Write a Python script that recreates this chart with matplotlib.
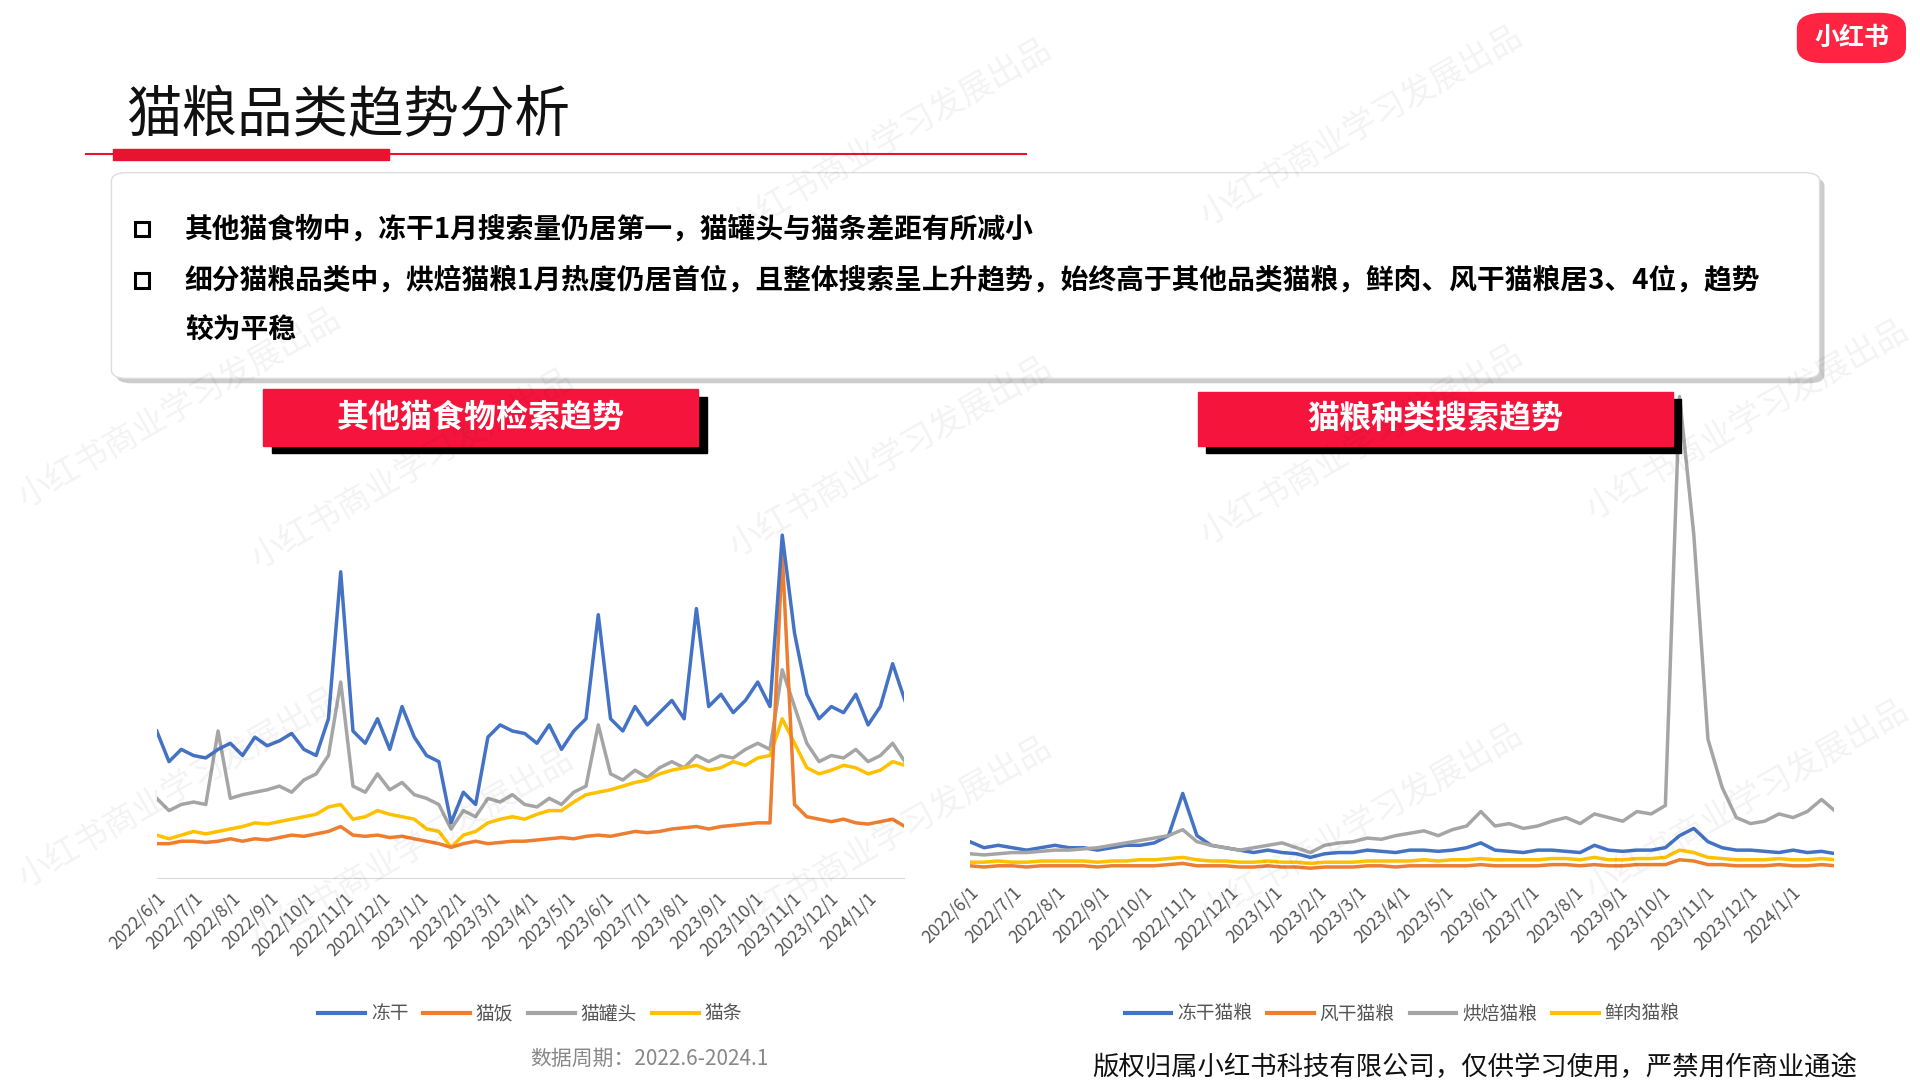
import matplotlib
matplotlib.use("Agg")
import matplotlib.pyplot as plt
from matplotlib.patches import FancyBboxPatch, Rectangle
import pandas as pd

plt.rcParams["font.family"] = "Noto Sans CJK SC"

dates = pd.date_range("2022-06-01", periods=62, freq="10D")
tick_dates = pd.date_range("2022-06-01", "2024-01-01", freq="MS")
tick_labels = [f"{d.year}/{d.month}/1" for d in tick_dates]

left_names = ["冻干", "猫饭", "猫罐头", "猫条"]
dongan = [120,95,105,100,98,105,110,100,115,108,112,118,105,100,130,
          250,
          120,110,130,105,140,115,100,95,
          45,70,60,
          115,125,120,118,110,125,105,120,130,
          215,
          130,120,140,125,135,145,130,
          220,
          140,150,135,145,160,140,
          280,
          200,150,130,140,135,150,125,140,175,145]
maofan = [28,28,30,30,29,30,32,30,32,31,33,35,34,36,38,
          42,
          35,34,35,33,34,32,30,28,
          25,28,30,
          28,29,30,30,31,32,33,32,34,
          35,
          34,36,38,37,38,40,41,
          42,
          40,42,43,44,45,45,
          265,
          60,50,48,46,48,45,44,46,48,42]
guantou = [65,55,60,62,60,120,65,68,70,72,75,70,80,85,100,
           160,
           75,70,85,72,78,68,65,60,
           40,55,50,
           65,62,68,60,58,65,60,70,75,
           125,
           85,80,88,82,90,95,90,
           100,
           95,100,98,105,110,105,
           170,
           140,110,95,100,98,105,95,100,110,95]
maotiao = [35,32,35,38,36,38,40,42,45,44,46,48,50,52,58,
           60,
           48,50,55,52,50,48,40,38,
           25,35,38,
           45,48,50,48,52,55,55,62,68,
           70,
           72,75,78,80,85,88,90,
           92,
           88,90,95,92,98,100,
           130,
           110,90,85,88,92,90,85,88,95,92]

right_names = ["冻干猫粮", "风干猫粮", "烘焙猫粮", "鲜肉猫粮"]
dg_ml = [25,20,22,20,18,20,22,20,20,18,20,22,22,24,30,
         65,
         30,22,20,18,16,18,16,15,
         12,15,16,
         16,18,17,16,18,18,17,18,20,
         24,
         18,17,16,18,18,17,16,
         22,
         18,17,18,18,
         20,30,36,
         25,20,18,
         18,17,16,18,16,17,15]
fg_ml = [5,4,5,5,4,5,5,5,5,4,5,5,5,5,6,
         7,
         5,5,5,4,4,5,4,4,
         3,4,4,
         4,5,5,4,5,5,5,5,5,
         6,
         5,5,5,5,6,6,5,
         6,
         5,5,6,6,
         6,10,9,
         6,6,5,
         5,5,6,5,5,6,5]
hb_ml = [15,14,15,16,16,17,18,18,19,20,22,24,26,28,30,
         35,
         25,22,20,18,20,22,24,20,
         16,22,24,
         25,28,27,30,32,34,30,35,38,
         50,
         38,40,36,38,42,45,40,
         48,
         45,42,50,48,
         55,394,280,
         110,70,45,
         40,42,48,45,50,60,50]
xr_ml = [8,8,9,8,8,9,9,9,9,8,9,9,10,10,11,
         12,
         10,9,9,8,8,9,8,8,
         7,8,8,
         8,9,9,9,9,10,9,10,10,
         11,
         10,10,10,10,11,11,10,
         12,
         10,10,11,11,
         12,18,16,
         12,11,10,
         10,10,11,10,10,11,10]

colors = ["#4472C4", "#ED7D31", "#A5A5A5", "#FFC000"]

W, H = 1568, 882
fig = plt.figure(figsize=(19.2, 10.8), dpi=100)

def fx(x): return x / W
def fy(y): return 1 - y / H

# watermarks (kept fully inside the canvas)
for (x, y) in [(590, 200), (975, 190), (200, 470), (590, 460), (975, 450), (1290, 430),
               (200, 780), (590, 770), (975, 760), (1290, 740), (10, 420), (10, 730)]:
    fig.text(fx(x), fy(y), "小红书商业学习发展出品", rotation=30, fontsize=24, color="#000000",
             alpha=0.05, ha="left", va="bottom")

# title
fig.text(fx(103), fy(95), "猫粮品类趋势分析", fontsize=40, ha="left", va="center", color="#111111")
fig.add_artist(plt.Line2D([fx(70), fx(838)], [fy(126), fy(126)], color="#E8132F", lw=1.5))
fig.add_artist(Rectangle((fx(92), fy(131)), fx(226), 9 / H, color="#E8132F", transform=fig.transFigure))

# logo
fig.add_artist(FancyBboxPatch((fx(1468), fy(51)), fx(88), 40 / H, boxstyle="round,pad=0,rounding_size=0.014",
                              color="#FF2442", transform=fig.transFigure))
fig.text(fx(1512), fy(31), "小红书", fontsize=18, color="white", weight="bold", ha="center", va="center")

# text box
fig.add_artist(FancyBboxPatch((fx(95), fy(313)), fx(1395), 168 / H, boxstyle="round,pad=0,rounding_size=0.008",
                              facecolor="#cccccc", edgecolor="none", transform=fig.transFigure))
fig.add_artist(FancyBboxPatch((fx(91), fy(309)), fx(1395), 168 / H, boxstyle="round,pad=0,rounding_size=0.008",
                              facecolor="white", edgecolor="#dddddd", transform=fig.transFigure))
for y in (187, 229):
    fig.add_artist(Rectangle((fx(110), fy(y + 6)), fx(12), 12 / H, facecolor="white", edgecolor="black",
                             lw=2.2, transform=fig.transFigure))
fs = 20
fig.text(fx(151), fy(187), "其他猫食物中，冻干1月搜索量仍居第一，猫罐头与猫条差距有所减小",
         fontsize=fs, weight="bold", ha="left", va="center")
fig.text(fx(151), fy(229), "细分猫粮品类中，烘焙猫粮1月热度仍居首位，且整体搜索呈上升趋势，始终高于其他品类猫粮，鲜肉、风干猫粮居3、4位，趋势",
         fontsize=fs, weight="bold", ha="left", va="center")
fig.text(fx(151), fy(270), "较为平稳", fontsize=fs, weight="bold", ha="left", va="center")

# header boxes
def header(x0, x1, y0, y1, text):
    fig.add_artist(Rectangle((fx(x0 + 7), fy(y1 + 6)), fx(x1 - x0), (y1 - y0) / H, color="black",
                             transform=fig.transFigure))
    fig.add_artist(Rectangle((fx(x0), fy(y1)), fx(x1 - x0), (y1 - y0) / H, color="#F5153C",
                             transform=fig.transFigure))
    fig.text(fx((x0 + x1) / 2), fy((y0 + y1) / 2), text, fontsize=23, weight="bold", color="white",
             ha="center", va="center")

header(215, 570, 318, 364, "其他猫食物检索趋势")
header(978, 1366, 320, 364, "猫粮种类搜索趋势")

xmin, xmax = pd.Timestamp("2022-06-01"), pd.Timestamp("2024-01-31")

def setup(ax, baseline):
    ax.set_xlim(xmin, xmax)
    for s in ax.spines.values():
        s.set_visible(False)
    if baseline:
        ax.spines["bottom"].set_visible(True)
        ax.spines["bottom"].set_color("#d9d9d9")
    ax.set_yticks([])
    ax.set_xticks(tick_dates)
    ax.set_xticklabels(tick_labels, rotation=45, ha="right", rotation_mode="anchor",
                       fontsize=12.5, color="#555555")
    ax.tick_params(axis="x", length=0, pad=8)
    ax.patch.set_alpha(0)

axL = fig.add_axes([fx(128), fy(717), fx(610), 317 / H])
for vals, c in [(guantou, colors[2]), (maotiao, colors[3]), (maofan, colors[1]), (dongan, colors[0])]:
    axL.plot(dates, vals, color=c, lw=2.5)
axL.set_ylim(0, 317)
setup(axL, True)
hl = [plt.Line2D([], [], color=c, lw=3) for c in colors]
axL.legend(hl, left_names, loc="center", bbox_to_anchor=(0.5, (717 - 828) / 317), ncol=4, frameon=False,
           fontsize=13.5, handlelength=2.5, columnspacing=0.8, handletextpad=0.3, labelcolor="#555555")

axR = fig.add_axes([fx(792), fy(712), fx(706), 394 / H])
for vals, c in [(fg_ml, colors[1]), (xr_ml, colors[3]), (dg_ml, colors[0]), (hb_ml, colors[2])]:
    axR.plot(dates, vals, color=c, lw=2.5)
axR.set_ylim(0, 400)
setup(axR, False)
axR.legend(hl, right_names, loc="center", bbox_to_anchor=(0.5, (712 - 828) / 394), ncol=4, frameon=False,
           fontsize=13.5, handlelength=2.5, columnspacing=0.8, handletextpad=0.3, labelcolor="#555555")

fig.text(fx(530), fy(865), "数据周期：2022.6-2024.1", fontsize=15, color="#888888", ha="center", va="center")
fig.text(fx(892), fy(872), "版权归属小红书科技有限公司，仅供学习使用，严禁用作商业通途", fontsize=19,
         color="#111111", ha="left", va="center")

fig.savefig("out.png", dpi=100)
